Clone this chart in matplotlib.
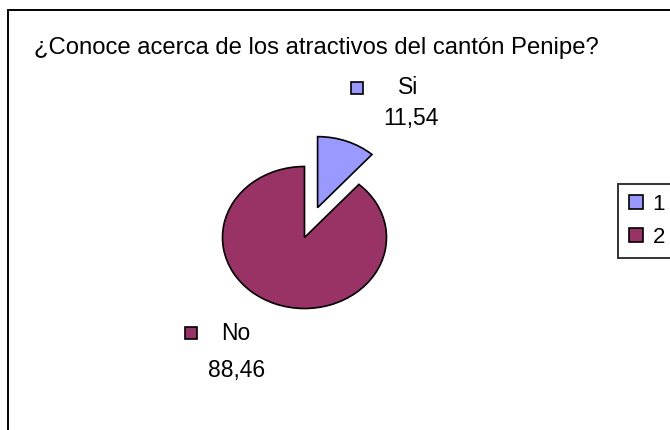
import matplotlib
matplotlib.use("Agg")
import matplotlib.pyplot as plt
from matplotlib.patches import Rectangle
from matplotlib.lines import Line2D

# data
labels = ["Si", "No"]
values = [11.54, 88.46]
value_texts = ["11,54", "88,46"]
legend_labels = ["1", "2"]
colors = ["#9999FF", "#993366"]

W, H = 670, 430
plt.rcParams["font.family"] = ["Liberation Sans", "DejaVu Sans"]

fig = plt.figure(figsize=(W / 100, H / 100), dpi=100)

# outer chart frame (runs off the right and bottom edges)
fig.patches.append(Rectangle((8 / W, -0.1), 1.2, (H - 10) / H + 0.1,
                             transform=fig.transFigure, fill=False,
                             edgecolor="black", linewidth=1.4))

fig.text(34 / W, 1 - 48 / H, "¿Conoce acerca de los atractivos del cantón Penipe?",
         fontsize=17.2, va="center", ha="left")

# pie axes: centre (304.5, 237.5) px, radii 82 x 71 px
cx, cy, rx, ry = 304.5, 237.5, 82, 71
ax = fig.add_axes([(cx - rx) / W, (H - cy - ry) / H, 2 * rx / W, 2 * ry / H])

wedges, _ = ax.pie(values, colors=colors, startangle=90, counterclock=False,
                   explode=[0.45, 0], radius=1,
                   wedgeprops=dict(edgecolor="black", linewidth=1.2))
for w in wedges:
    w.set_clip_on(False)
ax.set_aspect("auto")
ax.set_xlim(-1, 1)
ax.set_ylim(-1, 1)
ax.axis("off")


def px(x, y):
    return (x - cx) / rx, (cy - y) / ry


# data labels with legend keys
label_pos = [((357, 88), (398, 88), (411, 119)),
             ((191, 333), (221, 333), (237, 371))]
for i, (mk, tx, vt) in enumerate(label_pos):
    ax.plot(*px(*mk), marker="s", markersize=9, markerfacecolor=colors[i],
            markeredgecolor="black", markeredgewidth=1.2, clip_on=False)
    ax.text(*px(*tx), labels[i], fontsize=16.5, ha="left", va="center")
    ax.text(*px(*vt), value_texts[i], fontsize=16.5, ha="center", va="center")

handles = [Line2D([], [], linestyle="none", marker="s", markersize=10.5,
                  markerfacecolor=c, markeredgecolor="black", markeredgewidth=1.2)
           for c in colors]
leg = fig.legend(handles, legend_labels, loc="upper left",
                 bbox_to_anchor=(618 / W, 1 - 184 / H), frameon=True,
                 fancybox=False, edgecolor="black", fontsize=16,
                 handlelength=0.7, handletextpad=0.4, labelspacing=0.55,
                 borderpad=0.45, borderaxespad=0)
leg.get_frame().set_linewidth(1.4)

fig.savefig("out.png", dpi=100)
